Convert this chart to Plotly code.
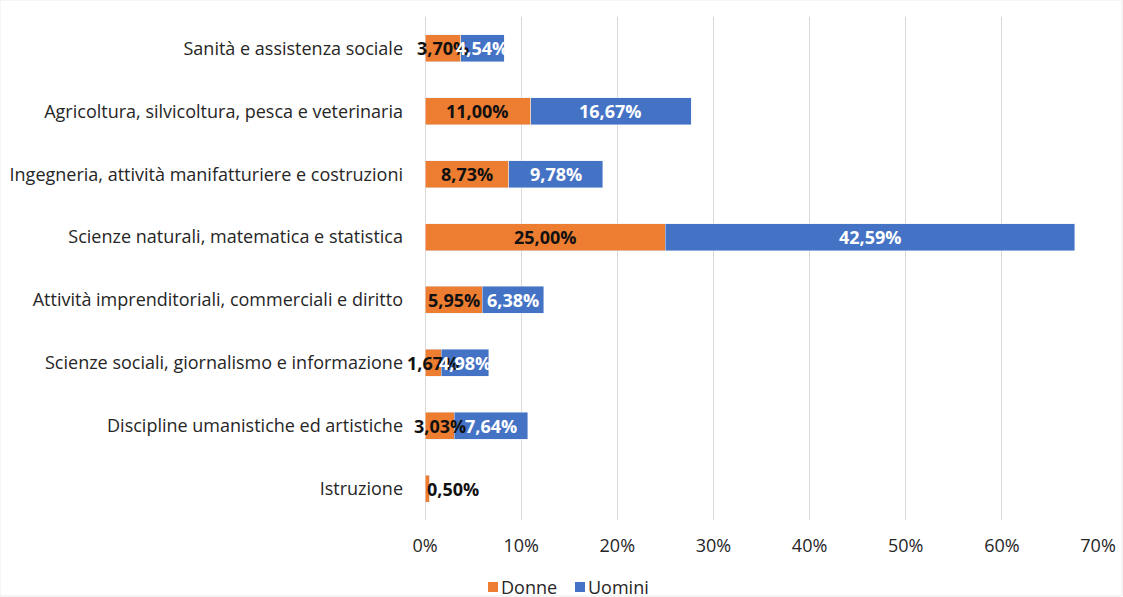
import plotly.graph_objects as go

categories = [
    "Sanità e assistenza sociale",
    "Agricoltura, silvicoltura, pesca e veterinaria",
    "Ingegneria, attività manifatturiere e costruzioni",
    "Scienze naturali, matematica e statistica",
    "Attività imprenditoriali, commerciali e diritto",
    "Scienze sociali, giornalismo e informazione",
    "Discipline umanistiche ed artistiche",
    "Istruzione",
]
donne = [3.70, 11.00, 8.73, 25.00, 5.95, 1.67, 3.03, 0.50]
uomini = [4.54, 16.67, 9.78, 42.59, 6.38, 4.98, 7.64, 0.0]
series_names = ["Donne", "Uomini"]
tick_vals = [0, 10, 20, 30, 40, 50, 60, 70]
tick_text = ["0%", "10%", "20%", "30%", "40%", "50%", "60%", "70%"]

ORANGE = "#ED7D31"
BLUE = "#4472C4"
FONT = "Open Sans"
TXT = "#262626"
SZ = 18

# plot-area geometry in pixels (for paper coordinate conversion of the legend)
L, R, T, B = 425, 24, 17, 77
W, H = 1123, 597
PW, PH = W - L - R, H - T - B

def px_x(px):
    return (px - L) / PW

def px_y(py):
    return (H - B - py) / PH

def fmt(v):
    return f"{v:.2f}".replace(".", ",") + "%"

fig = go.Figure()
fig.add_trace(go.Bar(y=categories, x=donne, orientation="h", name=series_names[0],
                     marker_color=ORANGE, hoverinfo="x+name", showlegend=False))
fig.add_trace(go.Bar(y=categories, x=uomini, orientation="h", name=series_names[1],
                     marker_color=BLUE, hoverinfo="x+name", showlegend=False))

annotations = []
for c, d, u in zip(categories, donne, uomini):
    if d > 0:
        if d + u < 1:
            annotations.append(dict(x=0, y=c, text=f"<b>{fmt(d)}</b>", showarrow=False,
                                    xanchor="left",
                                    font=dict(family=FONT, size=SZ, color="#111111")))
        else:
            annotations.append(dict(x=d / 2, y=c, text=f"<b>{fmt(d)}</b>", showarrow=False,
                                    font=dict(family=FONT, size=SZ, color="#111111")))
    if u > 0:
        annotations.append(dict(x=d + u / 2, y=c, text=f"<b>{fmt(u)}</b>", showarrow=False,
                                font=dict(family=FONT, size=SZ, color="#FFFFFF")))

# compact Excel-style legend: coloured squares + labels
shapes = [dict(type="rect", xref="paper", yref="paper", x0=px_x(0), x1=px_x(W - 1),
               y0=px_y(H - 1), y1=px_y(0), line=dict(color="#EBEBEB", width=1))]
legend_items = [(series_names[0], ORANGE, 488), (series_names[1], BLUE, 575)]
cy = 587
for name, col, sx in legend_items:
    shapes.append(dict(type="rect", xref="paper", yref="paper",
                       x0=px_x(sx), x1=px_x(sx + 10), y0=px_y(cy + 5), y1=px_y(cy - 5),
                       fillcolor=col, line=dict(width=0)))
    annotations.append(dict(xref="paper", yref="paper", x=px_x(sx + 12), y=px_y(cy),
                            xanchor="left", yanchor="middle", showarrow=False, text=name,
                            borderpad=0,
                            font=dict(family=FONT, size=SZ, color=TXT)))

fig.update_layout(
    barmode="stack",
    bargap=0.57,
    width=W, height=H,
    margin=dict(l=L, r=R, t=T, b=B, autoexpand=False),
    paper_bgcolor="white",
    plot_bgcolor="white",
    font=dict(family=FONT, size=SZ, color=TXT),
    annotations=annotations,
    shapes=shapes,
    showlegend=False,
    xaxis=dict(range=[0, 70.1], tickvals=tick_vals, ticktext=tick_text,
               showgrid=True, gridcolor="#D9D9D9", gridwidth=1,
               zeroline=True, zerolinecolor="#D9D9D9", zerolinewidth=1,
               showline=False, ticks="", ticklabelstandoff=13, automargin=False,
               tickfont=dict(family=FONT, size=SZ, color=TXT)),
    yaxis=dict(autorange="reversed", showgrid=False, zeroline=False, showline=False,
               ticks="", ticklabelstandoff=21, automargin=False,
               tickfont=dict(family=FONT, size=SZ, color=TXT)),
)

fig.write_html("out.html", config={"displayModeBar": False},
               post_script="document.body.style.margin='0';")
